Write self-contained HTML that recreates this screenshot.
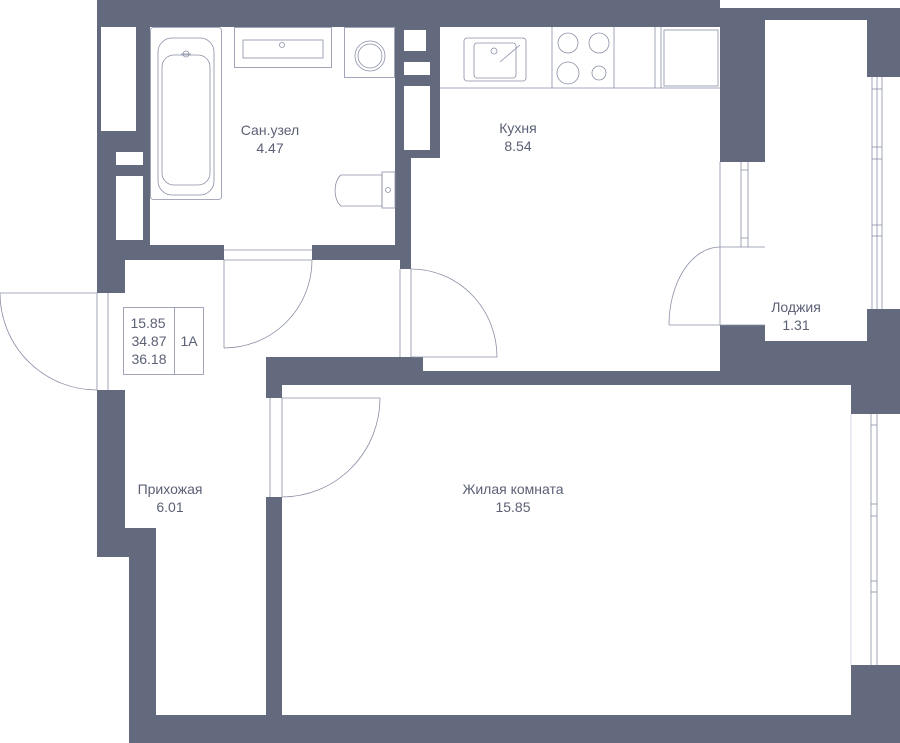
<!DOCTYPE html>
<html><head><meta charset="utf-8"><style>
html,body{margin:0;padding:0;background:#fff;}
svg{display:block;}
text{font-family:"Liberation Sans",sans-serif;font-size:14px;fill:#5b6075;text-anchor:middle;}
</style></head><body>
<svg width="900" height="743" viewBox="0 0 900 743" xmlns="http://www.w3.org/2000/svg">
<g fill="#646a7e">
<rect x="97" y="0" width="623" height="10"/>
<rect x="97" y="8" width="803" height="735"/>
</g>
<g fill="#fff">
<rect x="97" y="557" width="32" height="186"/>
<!-- bathroom -->
<rect x="150" y="27" width="245" height="218"/>
<rect x="101" y="27" width="35" height="104"/>
<rect x="116" y="152" width="27" height="13"/>
<rect x="116" y="176" width="27" height="64"/>
<!-- kitchen -->
<rect x="411" y="27" width="309" height="330"/>
<rect x="423" y="350" width="297" height="21"/>
<!-- hall -->
<rect x="125" y="260" width="275" height="97"/>
<rect x="125" y="350" width="141" height="178"/>
<rect x="156" y="520" width="110" height="195"/>
<rect x="224" y="245" width="88" height="16"/>
<rect x="400" y="269" width="11" height="88"/>
<rect x="97" y="293" width="28" height="97"/>
<!-- living -->
<rect x="282" y="385" width="569" height="330"/>
<rect x="266" y="398" width="16" height="99"/>
<rect x="851" y="414" width="49" height="251"/>
<!-- loggia -->
<rect x="765" y="20" width="102" height="321"/>
<rect x="867" y="77" width="33" height="232"/>
<rect x="720" y="162" width="45" height="163"/>
</g>
<rect x="400" y="27" width="40" height="131" fill="#646a7e"/>
<g fill="#fff">
<rect x="404" y="30" width="22" height="21"/>
<rect x="404" y="62" width="26" height="13"/>
<rect x="404" y="86" width="26" height="64"/>
</g>
<g fill="none" stroke="#8a8fa6" stroke-width="0.8">
<!-- bath fixtures -->
<rect x="150.5" y="27.5" width="71" height="172" rx="3"/>
<rect x="158" y="38" width="56" height="157" rx="14"/>
<rect x="162" y="55" width="48" height="130" rx="12"/>
<circle cx="186" cy="54" r="3"/>
<line x1="181" y1="54" x2="191" y2="54"/>
<rect x="234.5" y="27.5" width="97" height="40"/>
<rect x="243" y="40" width="80" height="18"/>
<circle cx="282" cy="45" r="2.5"/>
<rect x="344.5" y="27.5" width="50" height="50"/>
<circle cx="370" cy="56" r="15"/>
<circle cx="370" cy="56" r="12"/>
<path d="M382,175 H341 A10,17 0 0 0 341,206 H382 Z"/>
<rect x="382" y="172" width="13" height="36"/>
<circle cx="388" cy="190" r="2.5"/>
<!-- kitchen fixtures -->
<line x1="440" y1="88" x2="720" y2="88"/>
<rect x="464" y="38" width="62" height="43" rx="3"/>
<rect x="474" y="43" width="42" height="35" rx="3"/>
<circle cx="494" cy="51" r="3"/>
<line x1="500" y1="62" x2="520" y2="45"/>
<line x1="552" y1="27" x2="552" y2="88"/>
<line x1="614" y1="27" x2="614" y2="88"/>
<line x1="655" y1="27" x2="655" y2="88"/>
<line x1="661" y1="27" x2="661" y2="88"/>
<circle cx="568" cy="43" r="10"/><circle cx="599" cy="43" r="10"/>
<circle cx="568" cy="73" r="11"/><circle cx="599" cy="73" r="7"/>
<rect x="664" y="30" width="54" height="56"/>
<!-- doors -->
<line x1="224" y1="250" x2="312" y2="250"/><line x1="224" y1="260" x2="312" y2="260"/>
<line x1="224" y1="260" x2="224" y2="348"/>
<path d="M224,348 A88,88 0 0 0 312,260"/>
<line x1="400" y1="269" x2="400" y2="357"/><line x1="411" y1="269" x2="411" y2="357"/>
<line x1="411" y1="357" x2="497" y2="357"/>
<path d="M411,269 A86,88 0 0 1 497,357"/>
<line x1="97" y1="293" x2="97" y2="390"/><line x1="108" y1="293" x2="108" y2="390"/>
<line x1="0" y1="293" x2="97" y2="293"/>
<path d="M0,293 A97,97 0 0 0 97,390"/>
<line x1="270" y1="398" x2="270" y2="497"/><line x1="282" y1="398" x2="282" y2="497"/>
<line x1="282" y1="398" x2="380" y2="398"/>
<path d="M380,398 A98,99 0 0 1 282,497"/>
<line x1="669" y1="325" x2="765" y2="325"/>
<line x1="720" y1="162" x2="720" y2="325"/>
<path d="M720,247 A51,78 0 0 0 669,325"/>
<line x1="720" y1="247" x2="765" y2="247"/>
<!-- windows -->
<line x1="741" y1="162" x2="741" y2="247"/><line x1="748" y1="162" x2="748" y2="247"/>
<line x1="741" y1="170" x2="748" y2="170"/><line x1="741" y1="238" x2="748" y2="238"/>
<line x1="872" y1="77" x2="872" y2="309"/><line x1="877" y1="77" x2="877" y2="309"/><line x1="882" y1="77" x2="882" y2="309"/>
<line x1="872" y1="89" x2="882" y2="89"/><line x1="872" y1="147" x2="882" y2="147"/><line x1="872" y1="159" x2="882" y2="159"/><line x1="872" y1="225" x2="882" y2="225"/><line x1="872" y1="236" x2="882" y2="236"/>
<line x1="851" y1="414" x2="851" y2="665" stroke="#c9cde6"/>
<line x1="871" y1="414" x2="871" y2="665"/><line x1="877" y1="414" x2="877" y2="665"/>
<line x1="871" y1="425" x2="877" y2="425"/><line x1="871" y1="504" x2="877" y2="504"/><line x1="871" y1="516" x2="877" y2="516"/><line x1="871" y1="581" x2="877" y2="581"/><line x1="871" y1="592" x2="877" y2="592"/>
<!-- info box -->
<rect x="123.5" y="307.5" width="80" height="67"/>
<line x1="174.5" y1="307" x2="174.5" y2="375"/>
</g>
<text x="148" y="328">15.85</text>
<text x="149" y="346">34.87</text>
<text x="149" y="364">36.18</text>
<text x="189" y="346">1A</text>
<text x="270" y="135">Сан.узел</text>
<text x="270" y="153">4.47</text>
<text x="518" y="133">Кухня</text>
<text x="518" y="151">8.54</text>
<text x="796" y="312">Лоджия</text>
<text x="796" y="330">1.31</text>
<text x="170" y="494">Прихожая</text>
<text x="170" y="512">6.01</text>
<text x="513" y="494">Жилая комната</text>
<text x="513" y="512">15.85</text>
</svg>
</body></html>
